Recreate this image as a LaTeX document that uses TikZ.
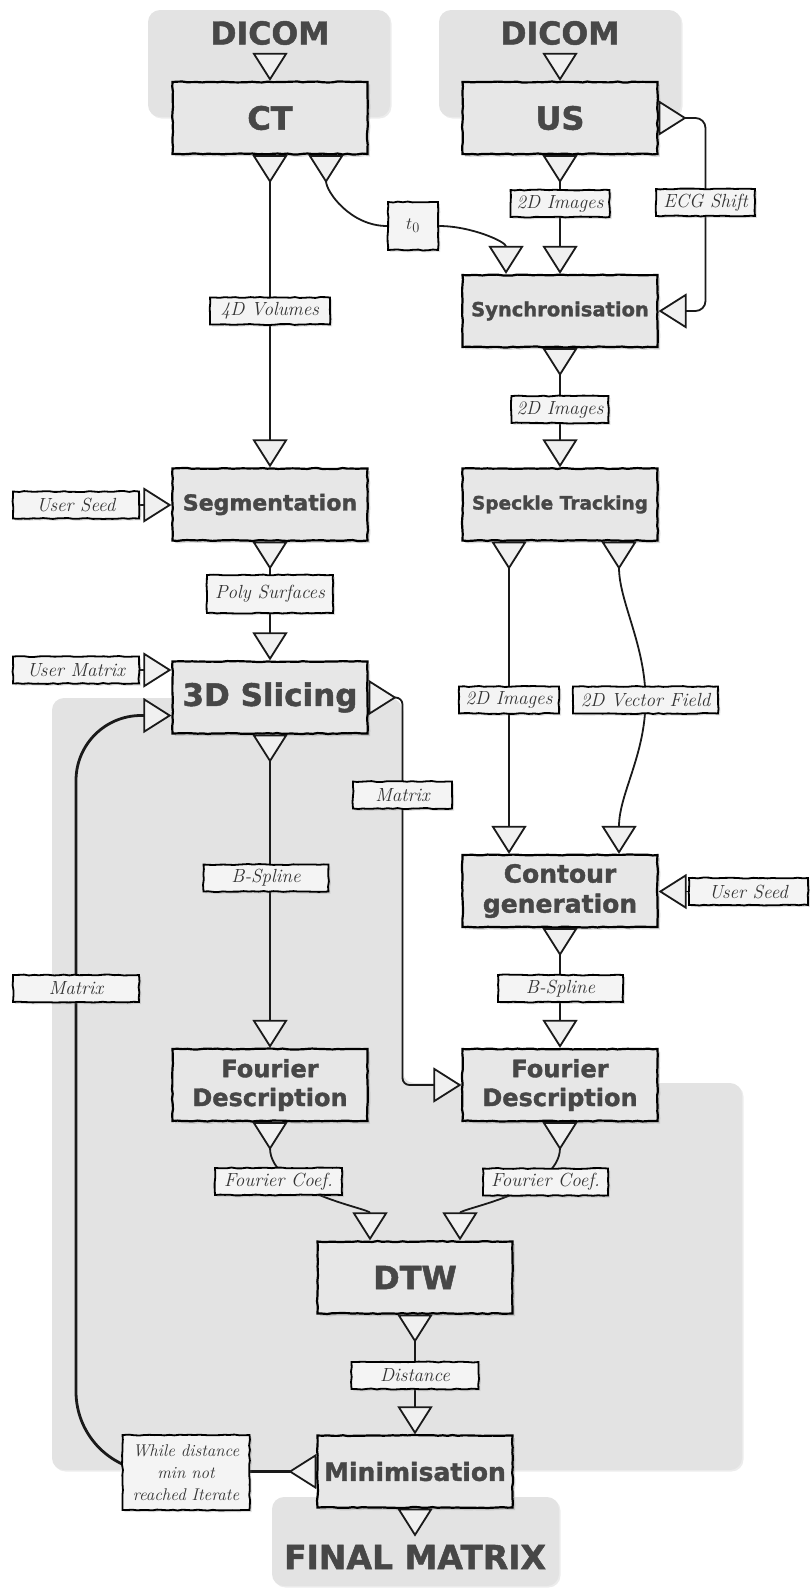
\documentclass[tikz,border=0pt]{standalone}
\usepackage{fontspec}
\newfontfamily\procfont{DejaVu Sans}[BoldFeatures={FakeBold=1.5}]
\usetikzlibrary{arrows.meta,shadows,decorations.pathmorphing}
\definecolor{panelgray}{HTML}{E3E3E3}
\definecolor{procgray}{HTML}{E7E7E7}
\definecolor{tagfill}{HTML}{F4F4F4}
\definecolor{trifill}{HTML}{F0F0F0}
\definecolor{inkgray}{HTML}{474747}
\definecolor{edgeblack}{HTML}{1A1A1A}
\newcommand*\fsz[1]{\fontsize{#1pt}{\fpeval{1.2*#1}pt}\selectfont}
\pgfdeclarelayer{panels}
\pgfdeclarelayer{tags}
\pgfsetlayers{panels,main,tags}
\pgfmathsetseed{7}
\tikzset{
	tipdst/.tip={Triangle[length=28pt,width=35pt,line width=1.8pt,fill=trifill]},
	tipsrc/.tip={Triangle[reversed,length=28pt,width=35pt,line width=1.8pt,fill=trifill]},
	sketch/.style={decorate,decoration={random steps,segment length=5pt,amplitude=.5pt}},
	proc/.style={
		rectangle,
		draw=black, line width=2.2pt,
		fill=procgray,
		minimum width=195pt,
		minimum height=72pt,
		text=inkgray,
		align=center,
		font=\procfont\bfseries\fsz{#1},
		drop shadow={shadow xshift=2.5pt,shadow yshift=-2.5pt,opacity=.3},
		sketch},
	proc/.default=22,
	tag/.style={
		rectangle,
		draw=black, line width=1.8pt,
		fill=tagfill,
		minimum width=#1,
		minimum height=27pt,
		inner sep=2pt,
		text=black!80,
		align=center,
		font=\itshape\fsz{19},
		drop shadow={shadow xshift=2pt,shadow yshift=-2pt,opacity=.25},
		sketch},
	title/.style={text=inkgray, font=\procfont\bfseries\fsz{#1}, inner xsep=0pt, inner ysep=10pt},
	group/.style={fill=panelgray, rounded corners=12pt,
		drop shadow={shadow xshift=1.5pt,shadow yshift=-1.5pt,opacity=.15}},
	flow/.style={draw=edgeblack, line width=1.8pt, arrows=tipsrc-tipdst},
	flowin/.style={draw=edgeblack, line width=1.8pt, arrows=-tipdst},
	flowout/.style={draw=edgeblack, line width=1.8pt, arrows=tipsrc-},
}

\begin{document}
\begin{tikzpicture}[x=1pt,y=-1pt]
\useasboundingbox (0,0) rectangle (809,1588);

\begin{pgfonlayer}{panels}
\path[group] (148,10) rectangle (390,117);
\path[group] (439,10) rectangle (681,117);
\path[group] (52,698) -- (402,698) -- (402,1083) -- (742,1083) -- (742,1470) -- (52,1470) -- cycle;
\path[group] (272,1497) rectangle (559,1586);
\end{pgfonlayer}

\node[title=31.5] (dicomct) at (270,33) {DICOM};
\node[title=31.5] (dicomus) at (560,33) {DICOM};
\node[proc=32] (ct) at (270,118) {CT};
\node[proc=32] (us) at (560,118) {US};
\node[proc=19.5] (sync) at (560,311) {Synchronisation};
\node[proc=22] (seg) at (270,504.5) {Segmentation};
\node[proc=18.5] (speckle) at (560,504.5) {Speckle Tracking};
\node[proc=31] (slicing) at (270,697.5) {3D Slicing};
\node[proc=25] (contour) at (560,891) {Contour\\generation};
\node[proc=24] (fourl) at (270,1085) {Fourier\\Description};
\node[proc=24] (fourr) at (560,1085) {Fourier\\Description};
\node[proc=32] (dtw) at (415,1277.5) {DTW};
\node[proc=25] (min) at (415,1471.5) {Minimisation};
\node[title=33] (final) at (415,1557) {FINAL MATRIX};

\begin{pgfonlayer}{tags}
\node[tag=120pt] (vol) at (270,311) {4D Volumes};
\node[tag=50pt, minimum height=48pt] (t0) at (413,226) {$t_0$};
\node[tag=99pt] (img1) at (560,203.5) {2D Images};
\node[tag=99pt] (ecg) at (705.5,202.5) {ECG Shift};
\node[tag=97pt] (img2) at (560,409.5) {2D Images};
\node[tag=126pt] (seedl) at (76,505) {User Seed};
\node[tag=126pt, minimum height=38pt] (poly) at (270,594) {Poly Surfaces};
\node[tag=126pt] (umat) at (76,670) {User Matrix};
\node[tag=100pt] (img3) at (509,700) {2D Images};
\node[tag=145pt] (vec) at (645.5,700) {2D Vector Field};
\node[tag=99pt] (matr) at (402.5,795) {Matrix};
\node[tag=125pt] (bspl) at (266,878) {B-Spline};
\node[tag=119pt] (seedr) at (748.5,891.5) {User Seed};
\node[tag=125pt] (bspr) at (560.5,988.5) {B-Spline};
\node[tag=126pt] (matl) at (76,988.5) {Matrix};
\node[tag=127pt] (fcl) at (278.5,1181.5) {Fourier Coef.};
\node[tag=125pt] (fcr) at (545.5,1182) {Fourier Coef.};
\node[tag=127pt] (dist) at (415,1375.5) {Distance};
\node[tag=127pt, minimum height=75pt, font=\itshape\fontsize{17pt}{22pt}\selectfont] (iter) at (186,1472.5) {While distance\\min not\\reached Iterate};
\end{pgfonlayer}

\draw[flowin] (dicomct) -- (ct);
\draw[flowin] (dicomus) -- (us);
\draw[flow] (ct) -- (seg);
\draw[flowout] ([xshift=56pt]ct.south) to[out=-90,in=180] (t0);
\draw[flowin] (t0) to[out=0,in=90] ([xshift=-54pt]sync.north);
\draw[flow] (us) -- (sync);
\draw[flow, rounded corners=10pt] (us.east) -| (ecg.center) |- (sync.east);
\draw[flow] (sync) -- (speckle);
\draw[flowin] (seedl.east) -- (seedl.east -| seg.west);
\draw[flow] (seg) -- (slicing);
\draw[flowin] (umat.east) -- (umat.east -| slicing.west);
\draw[flow] (slicing) -- (fourl);
\draw[flow, rounded corners=7pt] (slicing.east) -| (matr.center) |- (fourr.west);
\draw[flow] (img3 |- speckle.south) -- (img3 |- contour.north);
\draw[flow] ([xshift=59pt]speckle.south) .. controls +(0,60) and +(0,-55) .. (vec.center)
	.. controls +(0,55) and +(0,-60) .. ([xshift=59pt]contour.north);
\draw[flowin] (seedr.west) -- (seedr.west -| contour.east);
\draw[flow] (contour) -- (fourr);
\draw[flow] (fourl.south) .. controls +(0,70) and +(0,-32) .. ([xshift=-45pt]dtw.north);
\draw[flow] (fourr.south) .. controls +(0,70) and +(0,-32) .. ([xshift=45pt]dtw.north);
\draw[flow] (dtw) -- (min);
\draw[flowout] (min) -- (final);
\draw[flow, line width=2.8pt, rounded corners=80pt] (min.west) -| (matl.center)
	[rounded corners=65pt] |- ([yshift=-18pt]slicing.west);
\end{tikzpicture}
\end{document}
